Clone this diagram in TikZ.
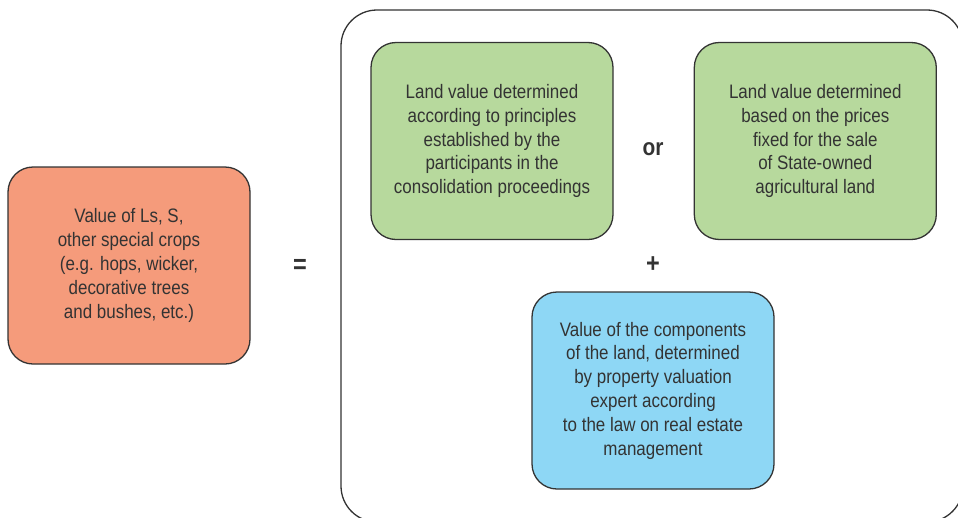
\documentclass[tikz,border=0pt]{standalone}
\usepackage{fontspec}
\setmainfont{Liberation Sans}[FakeStretch=0.87]
\usetikzlibrary{positioning}

\definecolor{cropfill}{RGB}{245,155,123}
\definecolor{landfill}{RGB}{183,217,157}
\definecolor{partfill}{RGB}{142,215,245}
\definecolor{inkgray}{RGB}{51,51,51}

\begin{document}
\begin{tikzpicture}[
  x=1pt,y=-1pt,
  node distance=80pt,
  valbox/.style={draw=inkgray,line width=1.3pt,rounded corners=25pt,align=center,
    minimum width=242pt,minimum height=197pt,inner sep=0pt,text=inkgray,
    font=\fontsize{19.5}{23.8}\selectfont},
  sign/.style={text=inkgray,font=\fontsize{27}{27}\selectfont\bfseries}
]
  \useasboundingbox (0,0) rectangle (958,517);
  \begin{scope}
    \clip (0,0) rectangle (958,517);
    \draw[draw=inkgray,line width=1.3pt,rounded corners=36pt] (341,10) rectangle (963,522);
  \end{scope}

  \node[valbox,fill=cropfill] (crops) at (129,265.5)
    {Value of Ls, S,\\other special crops\\(e.g. hops, wicker,\\decorative trees\\and bushes, etc.)};

  \node[valbox,fill=landfill] (rules) at (492,141)
    {Land value determined\\according to principles\\established by the\\participants in the\\consolidation proceedings};
  \node[valbox,fill=landfill,right=of rules] (prices)
    {Land value determined\\based on the prices\\fixed for the sale\\of State-owned\\agricultural land};

  \node[valbox,fill=partfill] (parts) at (653,390.5)
    {Value of the components\\of the land, determined\\by property valuation\\expert according\\to the law on real estate\\management};

  \node[sign] (eq) at (300,266) {=};
  \node[sign,font=\fontsize{24}{24}\selectfont\bfseries] (or) at (653,149) {or};
  \node[sign] (plus) at (653,265) {+};
\end{tikzpicture}
\end{document}
